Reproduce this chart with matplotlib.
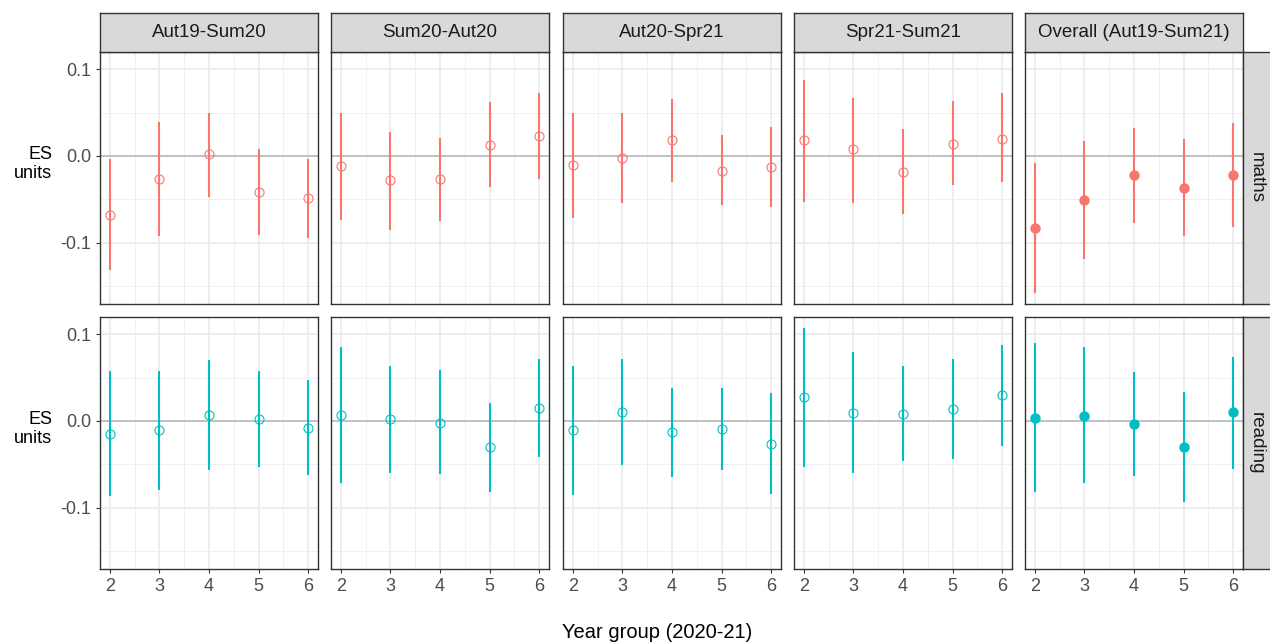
import numpy as np
import matplotlib
matplotlib.use('Agg')
import matplotlib.pyplot as plt

plt.rcParams['font.family'] = ['Liberation Sans', 'DejaVu Sans']

periods = ["Aut19-Sum20", "Sum20-Aut20", "Aut20-Spr21", "Spr21-Sum21", "Overall (Aut19-Sum21)"]
subjects = ["maths", "reading"]
years = [2, 3, 4, 5, 6]

# maths: estimate, lower, upper per period (years 2..6)
maths_est = [[-0.068, -0.026, 0.002, -0.041, -0.049],
             [-0.012, -0.028, -0.027, 0.013, 0.023],
             [-0.010, -0.002, 0.018, -0.017, -0.013],
             [0.018, 0.008, -0.018, 0.014, 0.020],
             [-0.083, -0.051, -0.022, -0.037, -0.022]]
maths_lo = [[-0.131, -0.092, -0.047, -0.091, -0.095],
            [-0.074, -0.085, -0.075, -0.036, -0.027],
            [-0.071, -0.054, -0.030, -0.057, -0.059],
            [-0.053, -0.054, -0.067, -0.034, -0.030],
            [-0.158, -0.119, -0.077, -0.092, -0.082]]
maths_hi = [[-0.004, 0.039, 0.050, 0.008, -0.004],
            [0.050, 0.028, 0.021, 0.062, 0.072],
            [0.050, 0.049, 0.065, 0.024, 0.033],
            [0.088, 0.067, 0.031, 0.063, 0.072],
            [-0.008, 0.017, 0.032, 0.019, 0.038]]

# reading
reading_est = [[-0.015, -0.011, 0.007, 0.002, -0.008],
               [0.007, 0.002, -0.002, -0.030, 0.015],
               [-0.011, 0.010, -0.013, -0.009, -0.026],
               [0.027, 0.009, 0.008, 0.014, 0.030],
               [0.003, 0.006, -0.003, -0.030, 0.010]]
reading_lo = [[-0.086, -0.080, -0.056, -0.053, -0.062],
              [-0.071, -0.060, -0.061, -0.082, -0.042],
              [-0.085, -0.051, -0.064, -0.057, -0.084],
              [-0.053, -0.060, -0.046, -0.044, -0.029],
              [-0.082, -0.072, -0.063, -0.093, -0.055]]
reading_hi = [[0.057, 0.057, 0.070, 0.057, 0.047],
              [0.085, 0.063, 0.059, 0.021, 0.071],
              [0.063, 0.071, 0.038, 0.038, 0.032],
              [0.107, 0.079, 0.063, 0.071, 0.088],
              [0.090, 0.085, 0.056, 0.033, 0.074]]

colors = {"maths": "#F8766D", "reading": "#00BFC4"}
data = {"maths": (maths_est, maths_lo, maths_hi),
        "reading": (reading_est, reading_lo, reading_hi)}

W, H = 1270, 644
fig = plt.figure(figsize=(W / 100, H / 100), dpi=100)


def px(l, t, w, h):
    return [l / W, 1 - (t + h) / H, w / W, h / H]


col_lefts = [100, 331, 563, 794, 1025]
pw = 218
row_tops = [52, 317]
ph = 252
border = "#333333"

for r, subj in enumerate(subjects):
    est, lo, hi = data[subj]
    for c, per in enumerate(periods):
        ax = fig.add_axes(px(col_lefts[c], row_tops[r], pw, ph))
        ax.set_xlim(1.8, 6.2)
        ax.set_ylim(-0.1705, 0.1197)
        ax.set_xticks(years)
        ax.set_xticks([2.5, 3.5, 4.5, 5.5], minor=True)
        ax.set_yticks([-0.1, 0.0, 0.1])
        ax.set_yticks([-0.15, -0.05, 0.05], minor=True)
        ax.grid(which='major', color='#EBEBEB', linewidth=1.2, zorder=0)
        ax.grid(which='minor', color='#F0F0F0', linewidth=0.7, zorder=0)
        ax.set_axisbelow(True)
        ax.axhline(0, color='#BEBEBE', linewidth=1.3, zorder=1)
        col = colors[subj]
        ax.vlines(years, lo[c], hi[c], color=col, linewidth=1.5, zorder=2)
        if c == 4:
            ax.plot(years, est[c], 'o', color=col, markersize=6.5, zorder=3)
        else:
            ax.plot(years, est[c], 'o', markerfacecolor='none', markeredgecolor=col,
                    markeredgewidth=0.8, markersize=6.5, zorder=3)
        for s in ax.spines.values():
            s.set_color(border)
            s.set_linewidth(1.0)
        ax.tick_params(which='minor', length=0)
        ax.tick_params(which='major', length=3, width=0.8, color=border,
                       labelcolor='#4D4D4D', labelsize=13)
        if c == 0:
            ax.set_yticklabels(["-0.1", "0.0", "0.1"])
        else:
            ax.tick_params(axis='y', left=False, labelleft=False)
        if r == 1:
            ax.set_xticklabels([str(y) for y in years])
        else:
            ax.tick_params(axis='x', bottom=False, labelbottom=False)

        # top strip
        if r == 0:
            sax = fig.add_axes(px(col_lefts[c], 13, pw, 39))
            sax.set_facecolor('#D9D9D9')
            sax.set_xticks([])
            sax.set_yticks([])
            for s in sax.spines.values():
                s.set_color(border)
                s.set_linewidth(1.0)
            sax.text(0.5, 0.5, per, ha='center', va='center', fontsize=13.5,
                     color='#1A1A1A', transform=sax.transAxes)

    # right strip
    rax = fig.add_axes(px(1243, row_tops[r], 32, ph))
    rax.set_facecolor('#D9D9D9')
    rax.set_xticks([])
    rax.set_yticks([])
    for s in rax.spines.values():
        s.set_color(border)
        s.set_linewidth(1.0)
    rax.text(13 / 32, 0.5, subj, ha='center', va='center', rotation=270,
             fontsize=13.5, color='#1A1A1A', transform=rax.transAxes)

    # y title for each row
    fig.text(52 / W, 1 - (row_tops[r] + 104 + 8) / H, "ES\nunits", ha='right',
             va='center', fontsize=13, color='black', linespacing=1.2)

fig.text(657 / W, 1 - 633 / H, "Year group (2020-21)", ha='center', va='center',
         fontsize=14.5, color='black')

fig.savefig('out.png', dpi=100)
